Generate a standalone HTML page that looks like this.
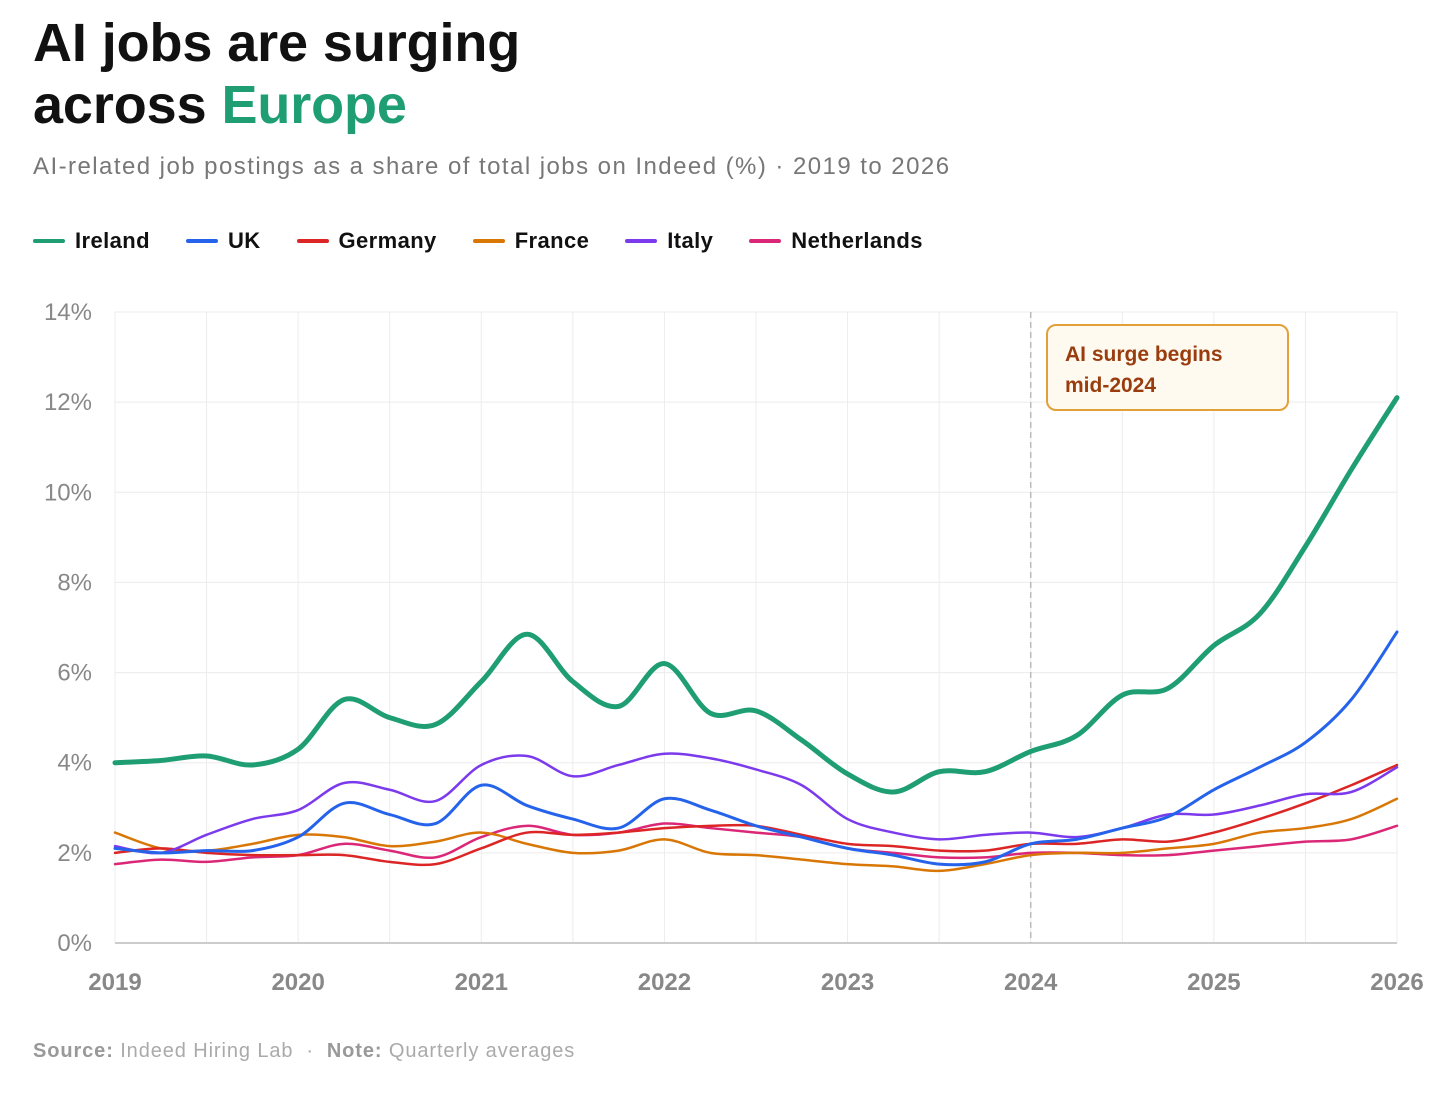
<!DOCTYPE html>
<html><head><meta charset="utf-8"><style>
body{margin:0;background:#fff;width:1452px;height:1094px;overflow:hidden;font-family:"Liberation Sans",sans-serif;position:relative}
h1{position:absolute;left:33px;top:12px;margin:0;font-size:54px;line-height:62px;font-weight:bold;letter-spacing:-0.1px;color:#111}
h1 span{color:#1f9e74}
.sub{position:absolute;left:33px;top:153px;font-size:24px;letter-spacing:1.45px;color:#777}
.legend{position:absolute;left:33px;top:228px;display:flex;font-size:22px;font-weight:bold;color:#111;letter-spacing:0.4px}
.li{display:flex;align-items:center;margin-right:36px}
.li i{display:inline-block;width:32px;height:4px;border-radius:2px;margin-right:10px}
.foot{position:absolute;left:33px;top:1040px;font-size:20px;letter-spacing:0.9px;color:#aaa}
.foot b{color:#999}
.ann{position:absolute;left:1046px;top:324px;width:222px;height:70px;border:2px solid #e3a03a;border-radius:10px;background:#fffaf0;color:#9a3d0e;font-weight:bold;font-size:21px;padding:13px 0 0 17px;line-height:31px}
</style></head><body>
<h1>AI jobs are surging<br>across <span>Europe</span></h1>
<div class="sub">AI-related job postings as a share of total jobs on Indeed (%) · 2019 to 2026</div>
<div class="legend">
<div class="li"><i style="background:#1f9e74"></i>Ireland</div>
<div class="li"><i style="background:#2563eb"></i>UK</div>
<div class="li"><i style="background:#dc2626"></i>Germany</div>
<div class="li"><i style="background:#d97706"></i>France</div>
<div class="li"><i style="background:#7c3aed"></i>Italy</div>
<div class="li"><i style="background:#db2777"></i>Netherlands</div>
</div>
<svg id="chart" width="1452" height="1094" style="position:absolute;left:0;top:0"></svg>
<div class="ann">AI surge begins<br>mid-2024</div>
<div class="foot"><b>Source:</b> Indeed Hiring Lab &nbsp;· &nbsp;<b>Note:</b> Quarterly averages</div>
<script>
const yTicks=[0,2,4,6,8,10,12,14];
const xYears=[2019,2020,2021,2022,2023,2024,2025,2026];
const ireland=[4.0,4.05,4.15,3.95,4.3,5.4,5.0,4.85,5.8,6.85,5.8,5.25,6.2,5.1,5.15,4.5,3.75,3.35,3.8,3.8,4.25,4.6,5.5,5.65,6.6,7.3,8.8,10.5,12.1];
const uk=[2.1,2.0,2.05,2.05,2.35,3.1,2.85,2.65,3.5,3.05,2.75,2.55,3.2,2.95,2.6,2.35,2.1,1.95,1.75,1.8,2.2,2.3,2.55,2.8,3.4,3.9,4.45,5.4,6.9];
const germany=[2.0,2.1,2.0,1.95,1.95,1.95,1.8,1.75,2.1,2.45,2.4,2.45,2.55,2.6,2.6,2.4,2.2,2.15,2.05,2.05,2.2,2.2,2.3,2.25,2.45,2.75,3.1,3.5,3.95];
const france=[2.45,2.1,2.05,2.2,2.4,2.35,2.15,2.25,2.45,2.2,2.0,2.05,2.3,2.0,1.95,1.85,1.75,1.7,1.6,1.75,1.95,2.0,2.0,2.1,2.2,2.45,2.55,2.75,3.2];
const italy=[2.15,2.0,2.4,2.75,2.95,3.55,3.4,3.15,3.95,4.15,3.7,3.95,4.2,4.1,3.85,3.5,2.75,2.45,2.3,2.4,2.45,2.35,2.55,2.85,2.85,3.05,3.3,3.35,3.9];
const netherlands=[1.75,1.85,1.8,1.9,1.95,2.2,2.05,1.9,2.35,2.6,2.4,2.45,2.65,2.55,2.45,2.35,2.1,2.0,1.9,1.9,2.0,2.0,1.95,1.95,2.05,2.15,2.25,2.3,2.6];
const X0=115,X1=1397,Y0=943,Y1=312;
const xs=t=>X0+(t-2019)/7*(X1-X0);
const ys=v=>Y0-v/14*(Y0-Y1);
const svg=document.getElementById('chart');
const NS='http://www.w3.org/2000/svg';
function mk(tag,attrs){const e=document.createElementNS(NS,tag);for(const k in attrs)e.setAttribute(k,attrs[k]);svg.appendChild(e);return e;}
for(let h=0;h<=14;h++){const x=xs(2019+h/2);
 const g=mk('line',{x1:x,x2:x,y1:Y1,y2:Y0,stroke:'#ececec','stroke-width':1});
 
 }
yTicks.forEach(v=>{const y=ys(v);
 const g=mk('line',{x1:X0,x2:X1,y1:y,y2:y,stroke:v===0?'#ccc':'#ececec','stroke-width':v===0?2:1});
 
 
 const t=mk('text',{x:92,y:y+8,'text-anchor':'end','font-size':24,fill:'#888','font-family':'Liberation Sans, sans-serif'});t.textContent=v+'%';
 
 });
xYears.forEach(yr=>{const t=mk('text',{x:xs(yr),y:990,'text-anchor':'middle','font-size':24,'font-weight':'bold',fill:'#888','font-family':'Liberation Sans, sans-serif'});t.textContent=yr;
 
 });
const vl=mk('line',{x1:xs(2024),x2:xs(2024),y1:Y1,y2:Y0,stroke:'#bbb','stroke-width':1.5,'stroke-dasharray':'6,4'});


function path(vals){const p=vals.map((v,i)=>[xs(2019+i/4),ys(v)]);let d='M'+p[0][0]+','+p[0][1];
 for(let i=0;i<p.length-1;i++){const a=p[Math.max(0,i-1)],b=p[i],c=p[i+1],e=p[Math.min(p.length-1,i+2)];
 const c1x=b[0]+(c[0]-a[0])/6,c1y=b[1]+(c[1]-a[1])/6,c2x=c[0]-(e[0]-b[0])/6,c2y=c[1]-(e[1]-b[1])/6;
 d+=` C${c1x},${c1y} ${c2x},${c2y} ${c[0]},${c[1]}`;}return d;}
[[netherlands,'#db2777',2.5,'netherlands'],[france,'#d97706',2.5,'france'],[germany,'#dc2626',2.5,'germany'],[italy,'#7c3aed',2.5,'italy'],[uk,'#2563eb',3,'uk'],[ireland,'#1f9e74',5,'ireland']].forEach(s=>{
 const l=mk('path',{d:path(s[0]),fill:'none',stroke:s[1],'stroke-width':s[2],'stroke-linecap':'round'});
 
 });
</script>
</body></html>
